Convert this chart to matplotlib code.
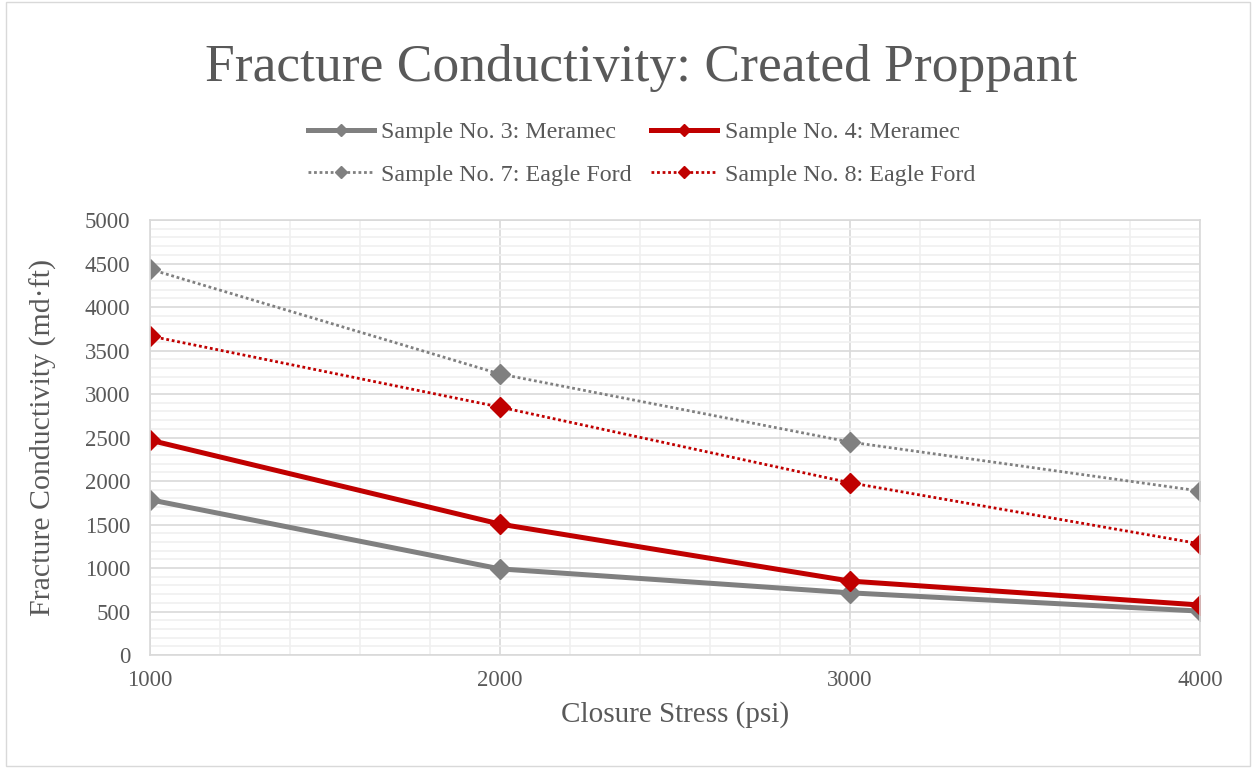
import matplotlib
matplotlib.use("Agg")
import matplotlib.pyplot as plt
from matplotlib.ticker import MultipleLocator
from matplotlib.patches import Rectangle

plt.rcParams['font.family'] = ['Liberation Serif', 'DejaVu Serif']

stress = [1000, 2000, 3000, 4000]
sample3 = [1785, 990, 715, 505]
sample4 = [2470, 1505, 850, 575]
sample7 = [4435, 3230, 2448, 1885]
sample8 = [3667, 2850, 1980, 1278]

gray = '#808080'
red = '#C00000'
txt = '#595959'

fig = plt.figure(figsize=(12.53, 7.68), dpi=100)
ax = fig.add_axes([0.1197, 0.1471, 0.8380, 0.5664])

l3, = ax.plot(stress, sample3, color=gray, lw=3.6, marker='D', ms=10, label='Sample No. 3: Meramec')
l4, = ax.plot(stress, sample4, color=red, lw=3.6, marker='D', ms=10, label='Sample No. 4: Meramec')
l7, = ax.plot(stress, sample7, color=gray, lw=2.0, ls=(0, (1, 1)), marker='D', ms=10, label='Sample No. 7: Eagle Ford')
l8, = ax.plot(stress, sample8, color=red, lw=2.0, ls=(0, (1, 1)), marker='D', ms=10, label='Sample No. 8: Eagle Ford')

ax.set_xlim(1000, 4000)
ax.set_ylim(0, 5000)
ax.xaxis.set_major_locator(MultipleLocator(1000))
ax.xaxis.set_minor_locator(MultipleLocator(200))
ax.yaxis.set_major_locator(MultipleLocator(500))
ax.yaxis.set_minor_locator(MultipleLocator(100))
ax.grid(which='major', color='#d9d9d9', lw=1.2)
ax.grid(which='minor', color='#f0f0f0', lw=1.2)
ax.set_axisbelow(True)
for s in ax.spines.values():
    s.set_color('#d9d9d9')
    s.set_linewidth(1.2)
ax.tick_params(which='both', length=0, labelsize=16.5, colors=txt)
ax.tick_params(axis='x', pad=11)
ax.tick_params(axis='y', pad=14)

ax.set_xlabel('Closure Stress (psi)', fontsize=21, color=txt, labelpad=7)
ax.set_ylabel('Fracture Conductivity (md·ft)', fontsize=21.5, color=txt, labelpad=20)

fig.text(0.512, 0.912, 'Fracture Conductivity: Created Proppant', ha='center', va='center',
         fontsize=38.5, color=txt)

handles = [l3, l7, l4, l8]
fig.legend(handles, [h.get_label() for h in handles], loc='center', bbox_to_anchor=(0.512, 0.8),
           ncol=2, frameon=False, fontsize=17.3, labelcolor=txt, handlelength=2.75,
           columnspacing=0.8, handletextpad=0.3, labelspacing=0.85, markerscale=0.6)

fig.patches.append(Rectangle((0.005, 0.003), 0.993, 0.994, transform=fig.transFigure,
                             fill=False, edgecolor='#d9d9d9', lw=1))

fig.savefig('out.png', dpi=100)
